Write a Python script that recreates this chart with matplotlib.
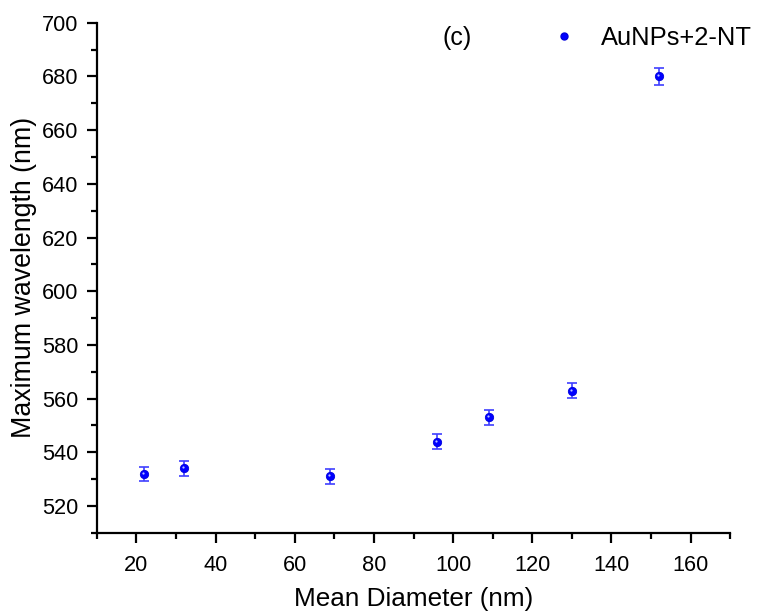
import matplotlib.pyplot as plt
import matplotlib.transforms as mtransforms
from matplotlib.lines import Line2D
from matplotlib.ticker import MultipleLocator

plt.rcParams['font.family'] = ['Liberation Sans', 'DejaVu Sans']

diameter = [22, 32, 69, 96, 109, 130, 152]
wavelength = [532, 534, 531, 544, 553, 563, 680]
err = [2.7, 2.7, 2.7, 2.7, 2.7, 2.8, 3.3]

fig = plt.figure(figsize=(7.63, 6.16), dpi=100)
ax = fig.add_axes([0.127, 0.135, 0.83, 0.828])

ax.errorbar(diameter, wavelength, yerr=err, fmt='none', ecolor='#4040ff',
            elinewidth=1.2, capsize=3.8, capthick=1.2)
ax.plot(diameter, wavelength, 'o', color='#0000ff', markersize=6,
        markeredgecolor='#0000dd', markeredgewidth=0.6, zorder=4)
# small highlight on each ball, shifted up-left like the original
shine = mtransforms.offset_copy(ax.transData, fig=fig, x=-1, y=1, units='dots')
ax.plot(diameter, wavelength, 'o', color='#b8c0ff', markersize=1.6,
        markeredgewidth=0, transform=shine, zorder=5)

ax.set_xlim(10, 170)
ax.set_ylim(510, 700)
ax.xaxis.set_major_locator(MultipleLocator(20))
ax.xaxis.set_minor_locator(MultipleLocator(10))
ax.yaxis.set_major_locator(MultipleLocator(20))
ax.yaxis.set_minor_locator(MultipleLocator(10))

for s in ['top', 'right']:
    ax.spines[s].set_visible(False)
for s in ['left', 'bottom']:
    ax.spines[s].set_linewidth(1.6)
ax.tick_params(which='major', direction='out', length=7.2, width=1.6, labelsize=15.7)
ax.tick_params(axis='x', which='major', pad=9)
ax.tick_params(axis='y', which='major', pad=6)
ax.tick_params(which='minor', direction='out', length=4, width=1.6)

ax.set_xlabel('Mean Diameter (nm)', fontsize=18.8, labelpad=8)
ax.set_ylabel('Maximum wavelength (nm)', fontsize=19.3, labelpad=4)

fig.text(457 / 763, 1 - 38 / 616, '(c)', fontsize=18, va='center', ha='center')
handle = Line2D([], [], marker='o', linestyle='none', color='#0000ff',
                markersize=5, markeredgecolor='#0000dd')
ax.legend([handle], ['AuNPs+2-NT'], loc='center left', frameon=False, fontsize=18.4,
          handlelength=1.0, handletextpad=0.95, borderpad=0, borderaxespad=0,
          bbox_to_anchor=(551 / 763, 1 - 38 / 616), bbox_transform=fig.transFigure)

fig.savefig('out.png', dpi=100)
